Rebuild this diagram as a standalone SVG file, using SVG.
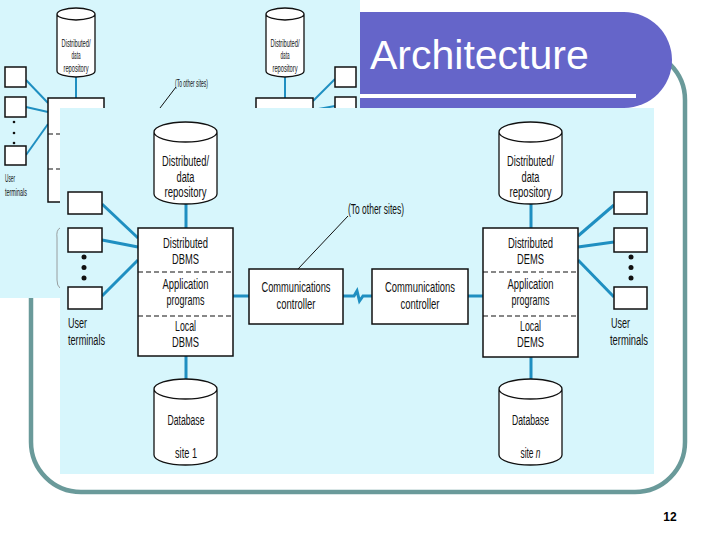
<svg xmlns="http://www.w3.org/2000/svg" width="720" height="540" viewBox="0 0 720 540">
<style>
.t{font-family:"Liberation Sans",Arial,sans-serif;font-size:14px;fill:#111;text-anchor:middle}
.ts{font-family:"Liberation Sans",Arial,sans-serif;font-size:10px;fill:#111;text-anchor:middle}
.tl{font-family:"Liberation Sans",Arial,sans-serif;font-size:14px;fill:#111}
.box{fill:#fff;stroke:#111;stroke-width:1.5}
.cyl{fill:#fff;stroke:#111;stroke-width:1.3}
.dash{stroke:#111;stroke-width:1.2;stroke-dasharray:5 3;fill:none}
.bl{stroke:#1f8fc1;stroke-width:3;fill:none}
.bls{stroke:#1f8fc1;stroke-width:2;fill:none}
.blk{stroke:#111;stroke-width:1;fill:none}
.panel{fill:#d7f6fc}
</style>
<rect width="720" height="540" fill="#fff"/>
<!-- slide frame -->
<rect x="31" y="50" width="654" height="442" rx="50" ry="50" fill="none" stroke="#6a9a9a" stroke-width="4.5"/>
<!-- overlay image (small diagram copy) -->
<g id="overlay">
<rect x="0" y="0" width="360" height="298" class="panel"/>
<g class="bls">
<line x1="76" y1="77" x2="76" y2="98"/>
<line x1="285" y1="77" x2="285" y2="98"/>
<line x1="26" y1="80" x2="48" y2="103"/>
<line x1="26" y1="107" x2="48" y2="112"/>
<line x1="26" y1="155" x2="48" y2="124"/>
<line x1="313" y1="101" x2="335" y2="79"/>
<line x1="313" y1="110" x2="335" y2="106"/>
</g>
<path d="M57,14 V71 A19,6 0 0 0 95,71 V14 A19,6 0 0 0 57,14 Z M57,14 A19,6 0 0 0 95,14" class="cyl" stroke-width="1"/>
<path d="M266,14 V71 A19,6 0 0 0 304,71 V14 A19,6 0 0 0 266,14 Z M266,14 A19,6 0 0 0 304,14" class="cyl" stroke-width="1"/>
<text class="ts" x="76" y="47" textLength="29" lengthAdjust="spacingAndGlyphs">Distributed/</text>
<text class="ts" x="76" y="59" textLength="9" lengthAdjust="spacingAndGlyphs">data</text>
<text class="ts" x="76" y="72" textLength="25" lengthAdjust="spacingAndGlyphs">repository</text>
<text class="ts" x="285" y="47" textLength="29" lengthAdjust="spacingAndGlyphs">Distributed/</text>
<text class="ts" x="285" y="59" textLength="9" lengthAdjust="spacingAndGlyphs">data</text>
<text class="ts" x="285" y="72" textLength="25" lengthAdjust="spacingAndGlyphs">repository</text>
<rect x="48" y="98" width="56" height="104" class="box" stroke-width="1"/>
<line x1="48" y1="134" x2="104" y2="134" class="dash" stroke-width="0.8"/>
<line x1="48" y1="169" x2="104" y2="169" class="dash" stroke-width="0.8"/>
<rect x="256" y="98" width="57" height="104" class="box" stroke-width="1"/>
<rect x="5" y="67" width="21" height="20" class="box" stroke-width="1"/>
<rect x="5" y="97" width="21" height="20" class="box" stroke-width="1"/>
<rect x="5" y="146" width="21" height="19" class="box" stroke-width="1"/>
<rect x="335" y="67" width="21" height="20" class="box" stroke-width="1"/>
<rect x="335" y="97" width="21" height="20" class="box" stroke-width="1"/>
<circle cx="14" cy="122" r="1.3" fill="#111"/>
<circle cx="14" cy="133" r="1.3" fill="#111"/>
<circle cx="14" cy="143" r="1.3" fill="#111"/>
<text class="ts" x="5" y="182" style="text-anchor:start" textLength="10" lengthAdjust="spacingAndGlyphs">User</text>
<text class="ts" x="5" y="196" style="text-anchor:start" textLength="22" lengthAdjust="spacingAndGlyphs">terminals</text>
<text class="ts" x="175" y="87" style="text-anchor:start" textLength="33" lengthAdjust="spacingAndGlyphs">(To other sites)</text>
<line x1="160" y1="108" x2="176" y2="87" class="blk" stroke-width="0.8"/>
<path d="M60,228 Q56,230 57,238 V280 Q57,286 60,288" fill="none" stroke="#888" stroke-width="0.8"/>
</g>
<!-- title bar -->
<g id="title">
<path d="M360,12 H624 A48,48 0 0 1 672,60 A48,48 0 0 1 624,108 H360 Z" fill="#6565c9"/>
<rect x="360" y="94" width="276" height="4" fill="#fff"/>
<text x="370" y="69" font-family="Liberation Sans, Arial, sans-serif" font-size="41" fill="#fff">Architecture</text>
</g>
<!-- main diagram panel -->
<rect x="60" y="108" width="594" height="366" class="panel"/>
<g id="connectors">
<line x1="186" y1="204" x2="186" y2="228" class="bl"/>
<line x1="531" y1="204" x2="531" y2="228" class="bl"/>
<line x1="186" y1="356" x2="186" y2="380" class="bl"/>
<line x1="531" y1="356" x2="531" y2="380" class="bl"/>
<line x1="102" y1="204" x2="138" y2="238" class="bl"/>
<line x1="102" y1="240" x2="138" y2="247" class="bl"/>
<line x1="102" y1="296" x2="138" y2="260" class="bl"/>
<line x1="578" y1="236" x2="614" y2="205" class="bl"/>
<line x1="578" y1="247" x2="614" y2="242" class="bl"/>
<line x1="578" y1="260" x2="614" y2="297" class="bl"/>
<line x1="233" y1="296" x2="249" y2="296" class="bl"/>
<line x1="468" y1="296" x2="483" y2="296" class="bl"/>
<path d="M343,296 H354 L357,291 L359.5,301 L363,296 H372" class="bl"/>
<line x1="298" y1="269" x2="348" y2="216" class="blk"/>
</g>
<g id="repo1">
<path d="M154,132 V194 A31.5,10 0 0 0 217,194 V132 A31.5,10 0 0 0 154,132 Z M154,132 A31.5,10 0 0 0 217,132" class="cyl"/>
<text class="t" x="185.5" y="166" textLength="47" lengthAdjust="spacingAndGlyphs">Distributed/</text>
<text class="t" x="185.5" y="182" textLength="18" lengthAdjust="spacingAndGlyphs">data</text>
<text class="t" x="185.5" y="197" textLength="42" lengthAdjust="spacingAndGlyphs">repository</text>
</g>
<g id="repon">
<path d="M499,132 V194 A31.5,10 0 0 0 562,194 V132 A31.5,10 0 0 0 499,132 Z M499,132 A31.5,10 0 0 0 562,132" class="cyl"/>
<text class="t" x="530.5" y="166" textLength="47" lengthAdjust="spacingAndGlyphs">Distributed/</text>
<text class="t" x="530.5" y="182" textLength="18" lengthAdjust="spacingAndGlyphs">data</text>
<text class="t" x="530.5" y="197" textLength="42" lengthAdjust="spacingAndGlyphs">repository</text>
</g>
<g id="site1">
<rect x="138" y="228" width="95" height="128" class="box"/>
<line x1="138" y1="272" x2="233" y2="272" class="dash"/>
<line x1="138" y1="316" x2="233" y2="316" class="dash"/>
<text class="t" x="185.5" y="248" textLength="45" lengthAdjust="spacingAndGlyphs">Distributed</text>
<text class="t" x="185.5" y="264" textLength="27" lengthAdjust="spacingAndGlyphs">DBMS</text>
<text class="t" x="185.5" y="289" textLength="46" lengthAdjust="spacingAndGlyphs">Application</text>
<text class="t" x="185.5" y="305" textLength="38" lengthAdjust="spacingAndGlyphs">programs</text>
<text class="t" x="185.5" y="331" textLength="21" lengthAdjust="spacingAndGlyphs">Local</text>
<text class="t" x="185.5" y="347" textLength="27" lengthAdjust="spacingAndGlyphs">DBMS</text>
</g>
<g id="siten">
<rect x="483" y="228" width="95" height="129" class="box"/>
<line x1="483" y1="272" x2="578" y2="272" class="dash"/>
<line x1="483" y1="316" x2="578" y2="316" class="dash"/>
<text class="t" x="530.5" y="248" textLength="45" lengthAdjust="spacingAndGlyphs">Distributed</text>
<text class="t" x="530.5" y="264" textLength="27" lengthAdjust="spacingAndGlyphs">DEMS</text>
<text class="t" x="530.5" y="289" textLength="46" lengthAdjust="spacingAndGlyphs">Application</text>
<text class="t" x="530.5" y="305" textLength="38" lengthAdjust="spacingAndGlyphs">programs</text>
<text class="t" x="530.5" y="331" textLength="21" lengthAdjust="spacingAndGlyphs">Local</text>
<text class="t" x="530.5" y="347" textLength="27" lengthAdjust="spacingAndGlyphs">DEMS</text>
</g>
<g id="comm1">
<rect x="249" y="269" width="94" height="55" class="box"/>
<text class="t" x="296" y="292" textLength="69" lengthAdjust="spacingAndGlyphs">Communications</text>
<text class="t" x="296" y="309" textLength="39" lengthAdjust="spacingAndGlyphs">controller</text>
</g>
<g id="commn">
<rect x="372" y="269" width="96" height="55" class="box"/>
<text class="t" x="420" y="292" textLength="70" lengthAdjust="spacingAndGlyphs">Communications</text>
<text class="t" x="420" y="309" textLength="39" lengthAdjust="spacingAndGlyphs">controller</text>
</g>
<g id="othersites">
<text class="tl" x="348" y="214" font-size="12" textLength="56" lengthAdjust="spacingAndGlyphs">(To other sites)</text>
</g>
<g id="terminals1">
<rect x="68" y="192" width="34" height="22" class="box" stroke-width="1.2"/>
<rect x="68" y="228" width="34" height="24" class="box" stroke-width="1.2"/>
<rect x="68" y="287" width="34" height="22" class="box" stroke-width="1.2"/>
<circle cx="84" cy="257" r="2.5" fill="#111"/>
<circle cx="84" cy="267.5" r="2.5" fill="#111"/>
<circle cx="84" cy="278" r="2.5" fill="#111"/>
<text class="tl" x="68" y="328" textLength="19" lengthAdjust="spacingAndGlyphs">User</text>
<text class="tl" x="68" y="345" textLength="37" lengthAdjust="spacingAndGlyphs">terminals</text>
</g>
<g id="terminalsn">
<rect x="614" y="192" width="33" height="22" class="box" stroke-width="1.2"/>
<rect x="614" y="228" width="33" height="24" class="box" stroke-width="1.2"/>
<rect x="614" y="287" width="33" height="22" class="box" stroke-width="1.2"/>
<circle cx="631" cy="257" r="2.5" fill="#111"/>
<circle cx="631" cy="267.5" r="2.5" fill="#111"/>
<circle cx="631" cy="278" r="2.5" fill="#111"/>
<text class="tl" x="611" y="328" textLength="19" lengthAdjust="spacingAndGlyphs">User</text>
<text class="tl" x="610" y="345" textLength="38" lengthAdjust="spacingAndGlyphs">terminals</text>
</g>
<g id="db1">
<path d="M154,389 V455 A31.5,10 0 0 0 217,455 V389 A31.5,10 0 0 0 154,389 Z M154,389 A31.5,10 0 0 0 217,389" class="cyl"/>
<text class="t" x="186" y="425" textLength="37" lengthAdjust="spacingAndGlyphs">Database</text>
<text class="t" x="186" y="458" textLength="22" lengthAdjust="spacingAndGlyphs">site 1</text>
</g>
<g id="dbn">
<path d="M499,389 V455 A31.5,10 0 0 0 562,455 V389 A31.5,10 0 0 0 499,389 Z M499,389 A31.5,10 0 0 0 562,389" class="cyl"/>
<text class="t" x="530.5" y="425" textLength="37" lengthAdjust="spacingAndGlyphs">Database</text>
<text class="t" transform="translate(530.5,458) scale(0.6,1)" x="0" y="0">site <tspan font-style="italic">n</tspan></text>
</g>
<text x="670" y="521" font-family="Liberation Sans, Arial, sans-serif" font-size="12" font-weight="bold" fill="#000" text-anchor="middle">12</text>
</svg>
